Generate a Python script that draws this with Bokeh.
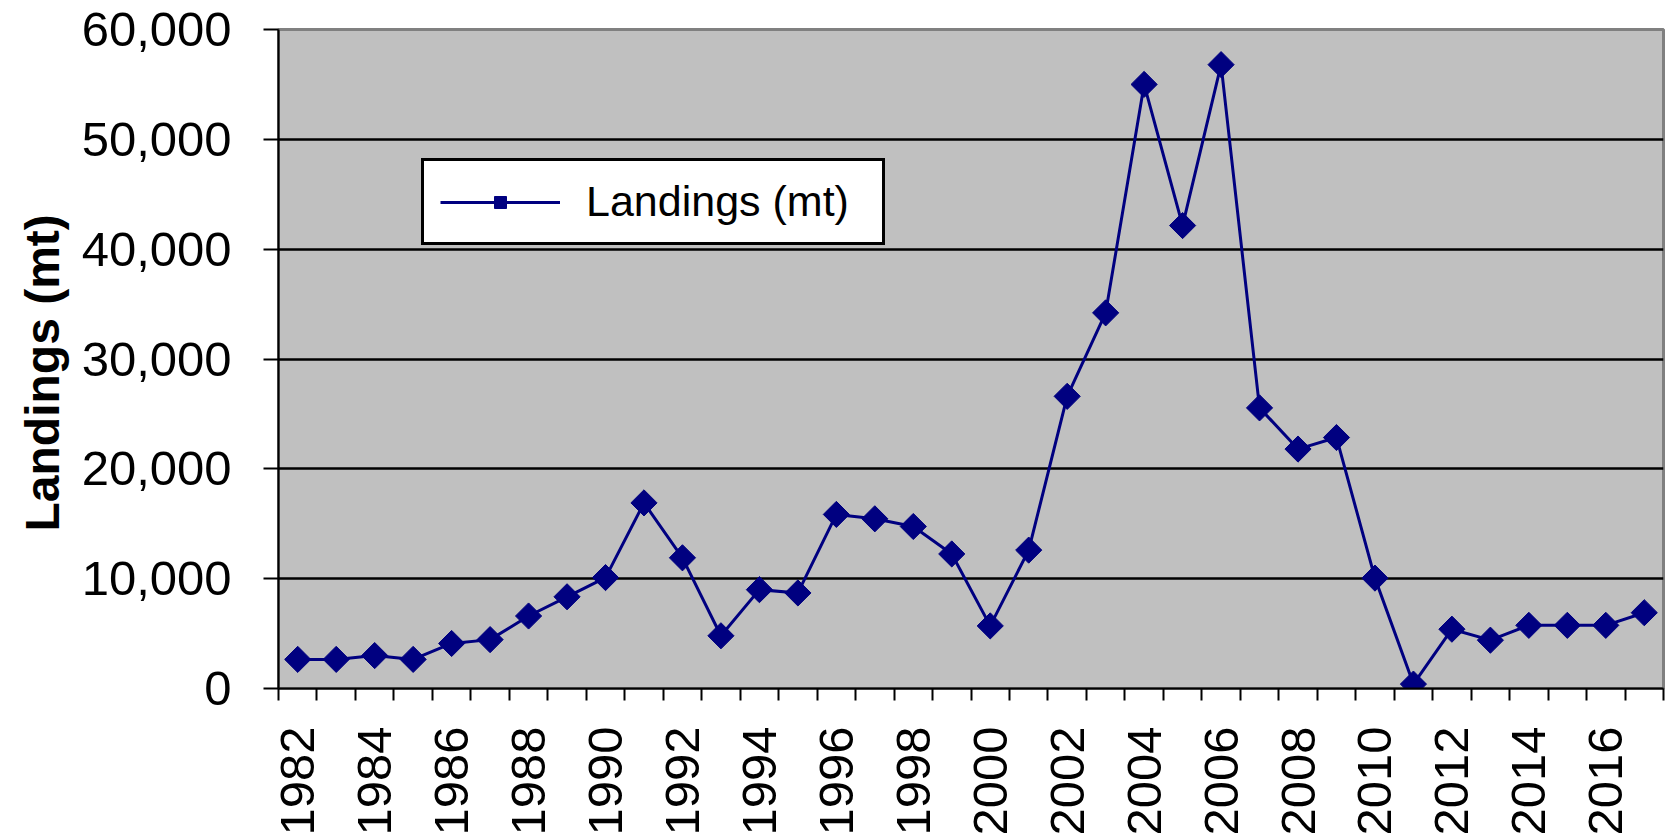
import numpy as np
from bokeh.plotting import figure
from bokeh.models import (FixedTicker, NumeralTickFormatter, Range1d, Legend,
                          LegendItem, Title)
from bokeh.embed import file_html
from bokeh.resources import INLINE

# ---- data ----
years = list(range(1982, 2018))
landings = [2650, 2650, 3000, 2650, 4100, 4450, 6600, 8350, 10100, 16900,
            11900, 4800, 9000, 8700, 15850, 15450, 14750, 12250, 5700, 12600,
            26600, 34200, 55000, 42150, 56800, 25550, 21800, 22850, 10050, 400,
            5400, 4400, 5750, 5750, 5750, 6900]
y_ticks = [0, 10000, 20000, 30000, 40000, 50000, 60000]
grid_ticks = [10000, 20000, 30000, 40000, 50000]
x_label_years = list(range(1982, 2017, 2))
x_boundaries = [y - 0.5 for y in range(1982, 2019)]
series_name = "Landings (mt)"
y_title = "Landings (mt)"

FONT = "Liberation Sans"
NAVY = "#000080"

p = figure(frame_width=1385, frame_height=659, output_backend="svg",
           toolbar_location=None,
           x_range=Range1d(years[0] - 0.5, years[-1] + 0.5),
           y_range=Range1d(0, 60000),
           min_border_left=278, min_border_right=5, min_border_top=29,
           min_border_bottom=150,
           background_fill_color="#C0C0C0", border_fill_color="white",
           outline_line_color="#808080", outline_line_width=3)

# axes
yax = p.yaxis[0]
yax.ticker = FixedTicker(ticks=y_ticks)
yax.formatter = NumeralTickFormatter(format="0,0")
yax.major_tick_out = 15
yax.major_tick_in = 0
yax.minor_tick_out = 0
yax.minor_tick_in = 0
yax.major_tick_line_width = 2
yax.major_tick_line_color = "black"
yax.axis_line_width = 2
yax.axis_line_color = "black"
yax.major_label_standoff = 32
yax.major_label_text_font = FONT
yax.major_label_text_font_size = "49px"
yax.major_label_text_color = "black"

xax = p.xaxis[0]
xax.ticker = FixedTicker(ticks=x_label_years, minor_ticks=x_boundaries)
xax.major_tick_out = 0
xax.major_tick_in = 0
xax.minor_tick_out = 12
xax.minor_tick_in = 0
xax.minor_tick_line_width = 2
xax.minor_tick_line_color = "black"
xax.axis_line_width = 2
xax.axis_line_color = "black"
xax.major_label_orientation = np.pi / 2
xax.major_label_standoff = 26
xax.major_label_text_font = FONT
xax.major_label_text_font_size = "49px"
xax.major_label_text_color = "black"

# grid
p.xgrid.visible = False
p.ygrid.ticker = FixedTicker(ticks=grid_ticks)
p.ygrid.grid_line_color = "black"
p.ygrid.grid_line_width = 2.5

# y title
p.add_layout(Title(text=y_title, align="left", offset=157,
                   text_font=FONT, text_font_size="48px",
                   text_font_style="bold", text_color="black",
                   standoff=19), "left")

# series
line_r = p.line(years, landings, line_color=NAVY, line_width=3)
pts_r = p.scatter(years, landings, marker="square", angle=np.pi / 4,
                  size=18.5, fill_color=NAVY, line_color=NAVY)

legend = Legend(items=[LegendItem(label=series_name, renderers=[line_r, pts_r])],
                location=(143, 443), margin=0, padding=16,
                glyph_width=120, glyph_height=30, label_standoff=26,
                label_width=280,
                label_text_font=FONT, label_text_font_size="43px",
                label_text_color="black",
                border_line_color="black", border_line_width=3,
                border_line_alpha=1,
                background_fill_color="white", background_fill_alpha=1)
p.add_layout(legend)

open("out.html", "w").write(file_html(p, INLINE))
